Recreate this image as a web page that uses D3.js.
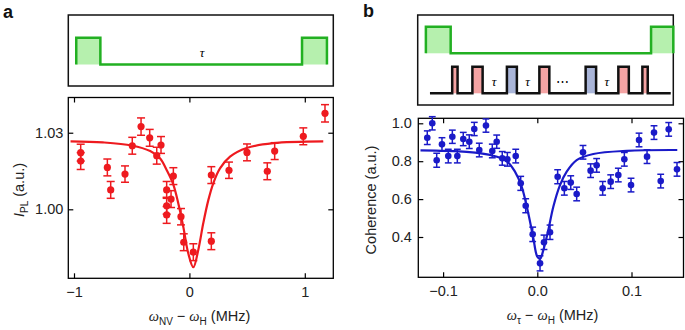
<!DOCTYPE html>
<html>
<head>
<meta charset="utf-8">
<script src="https://cdn.jsdelivr.net/npm/d3@7"></script>
<style>
  body { margin: 0; background: #fff; }
  svg { display: block; font-family: "Liberation Sans", Arial, sans-serif; }
  .tick text { font-size: 14.5px; fill: #222; }
  .tick line { stroke: #000; stroke-width: 1.2; }
  .frame { fill: none; stroke: #000; stroke-width: 1.3; }
  .axis-title { font-size: 14.5px; fill: #222; }
  .greek { font-family: "Liberation Serif", "DejaVu Serif", serif; font-style: italic; }
  .panel-label { font-size: 18px; font-weight: bold; fill: #111; }
</style>
</head>
<body>
<svg id="chart" width="685" height="330"></svg>
<script>
// ---- panel a: PL dip vs detuning ----
const freqA = [-0.942, -0.942, -0.711, -0.682, -0.558, -0.495, -0.419, -0.344, -0.283, -0.246,
  -0.197, -0.197, -0.197, -0.159, -0.139, -0.073, -0.049, 0.034, 0.190, 0.190,
  0.343, 0.499, 0.675, 0.739, 0.987, 1.175];
const plA = [1.0222, 1.0189, 1.0164, 1.0076, 1.0138, 1.0249, 1.0324, 1.0280, 1.0210, 1.0252,
  1.0076, 1.0014, 0.9978, 1.0040, 1.0130, 0.9971, 0.9871, 0.9832, 0.9875, 1.0134,
  1.0153, 1.0223, 1.0149, 1.0228, 1.0286, 1.0376];
const plErrA = [0.0033, 0.0033, 0.0033, 0.0033, 0.0032, 0.0033, 0.0034, 0.0033, 0.0033, 0.0033,
  0.0033, 0.0033, 0.0033, 0.0033, 0.0033, 0.0032, 0.0033, 0.0033, 0.0033, 0.0033,
  0.0032, 0.0033, 0.0033, 0.0033, 0.0033, 0.0034];
const fitFreqA = [-1.03, -0.75, -0.5, -0.34, -0.255, -0.197, -0.14, -0.096, -0.053, -0.01,
  0.034, 0.077, 0.12, 0.164, 0.207, 0.265, 0.352, 0.496, 0.727, 1.16];
const fitPlA = [1.0266, 1.0262, 1.0250, 1.0228, 1.0200, 1.0154, 1.0098, 1.0023, 0.9932, 0.9828,
  0.9773, 0.9841, 0.9945, 1.0036, 1.0102, 1.0160, 1.0206, 1.0240, 1.0259, 1.0266];
const xTicksA = [-1, 0, 1];
const yTicksA = [1.00, 1.03];

// ---- panel b: coherence vs detuning ----
const freqB = [-0.1168, -0.1115, -0.1068, -0.1012, -0.0945, -0.0902, -0.0849, -0.0786, -0.0722, -0.0669,
  -0.0616, -0.0545, -0.0478, -0.0431, -0.0372, -0.0318, -0.0229, -0.0176, -0.0123, -0.0049,
  0.0029, 0.0071, 0.0135, 0.0216, 0.0287, 0.0355, 0.0418, 0.0485, 0.0566, 0.0630,
  0.0694, 0.0779, 0.0860, 0.0924, 0.0995, 0.1080, 0.1165, 0.1239, 0.1310, 0.1395, 0.1483];
const cohB = [0.924, 1.000, 0.805, 0.889, 0.827, 0.929, 0.827, 0.917, 0.903, 0.970,
  0.859, 0.988, 0.854, 0.903, 0.815, 0.810, 0.827, 0.683, 0.565, 0.414,
  0.261, 0.372, 0.425, 0.718, 0.657, 0.687, 0.627, 0.847, 0.750, 0.778,
  0.657, 0.692, 0.727, 0.810, 0.674, 0.912, 0.824, 0.951, 0.695, 0.968, 0.757];
const cohErrB = [0.036, 0.035, 0.037, 0.035, 0.036, 0.035, 0.036, 0.035, 0.036, 0.035,
  0.036, 0.035, 0.036, 0.035, 0.036, 0.036, 0.036, 0.037, 0.037, 0.038,
  0.040, 0.038, 0.038, 0.037, 0.036, 0.036, 0.036, 0.036, 0.036, 0.036,
  0.036, 0.036, 0.036, 0.036, 0.036, 0.036, 0.036, 0.036, 0.036, 0.036, 0.036];
const fitFreqB = [-0.124, -0.075, -0.0467, -0.0325, -0.0237, -0.0166, -0.0096, -0.0042, 0.0, 0.003,
  0.0064, 0.0117, 0.017, 0.0241, 0.0312, 0.0418, 0.0594, 0.0949, 0.1486];
const fitCohB = [0.857, 0.849, 0.829, 0.801, 0.745, 0.666, 0.525, 0.393, 0.296, 0.285,
  0.331, 0.437, 0.560, 0.674, 0.745, 0.806, 0.838, 0.855, 0.859];
const xTicksB = [-0.1, 0.0, 0.1];
const yTicksB = [0.4, 0.6, 0.8, 1.0];

// ---- pulse schematics (time in % of the sequence box) ----
const laserStartA = [3.0, 88.2];
const laserEndA = [12.1, 97.6];
const laserStartB = [3.2, 91.3];
const laserEndB = [12.9, 100];
const mwStartB = [13.5, 21.4, 34.9, 47.6, 65.7, 78.5, 87.9];
const mwEndB = [15.6, 25.4, 38.8, 51.5, 69.8, 82.6, 90.0];
const mwPhaseB = ['x', 'x', 'y', 'x', 'y', 'x', 'x'];
const mwSpanB = [4.8, 99];
const gapLabelB = ['τ', 'τ', '⋯', 'τ'];
const gapPosB = [29.9, 43.0, 56.8, 74.0];
const gapLabelA = ['τ'];
const gapPosA = [50.5];

const svg = d3.select('#chart');

class ResonancePlot {

    constructor(_config, _data) {
        this.config = {
            parentElement: _config.parentElement,
            left: _config.left,
            top: _config.top,
            width: _config.width,
            height: _config.height,
            xDomain: _config.xDomain,
            yDomain: _config.yDomain,
            xTicks: _config.xTicks,
            yTicks: _config.yTicks,
            xFormat: _config.xFormat,
            yFormat: _config.yFormat,
            color: _config.color,
            radius: _config.radius || 3.4,
            cap: _config.cap || 3.5,
            yPadding: _config.yPadding || 5
        };
        this.data = _data;
        this.initVis();
    }

    initVis() {
        let vis = this;
        const cfg = vis.config;

        vis.xScale = d3.scaleLinear().domain(cfg.xDomain).range([0, cfg.width]);
        vis.yScale = d3.scaleLinear().domain(cfg.yDomain).range([cfg.height, 0]);

        // ticks point inward on all four sides, labels only bottom/left
        vis.xAxis = d3.axisBottom(vis.xScale).tickValues(cfg.xTicks).tickFormat(cfg.xFormat)
            .tickSizeInner(-5).tickSizeOuter(0).tickPadding(8);
        vis.xAxisTop = d3.axisTop(vis.xScale).tickValues(cfg.xTicks).tickFormat('')
            .tickSizeInner(-5).tickSizeOuter(0);
        vis.yAxis = d3.axisLeft(vis.yScale).tickValues(cfg.yTicks).tickFormat(cfg.yFormat)
            .tickSizeInner(-5).tickSizeOuter(0).tickPadding(cfg.yPadding);
        vis.yAxisRight = d3.axisRight(vis.yScale).tickValues(cfg.yTicks).tickFormat('')
            .tickSizeInner(-5).tickSizeOuter(0);

        vis.chart = cfg.parentElement.append('g')
            .attr('transform', `translate(${cfg.left},${cfg.top})`);

        vis.xAxisG = vis.chart.append('g').attr('transform', `translate(0,${cfg.height})`);
        vis.xAxisTopG = vis.chart.append('g');
        vis.yAxisG = vis.chart.append('g');
        vis.yAxisRightG = vis.chart.append('g').attr('transform', `translate(${cfg.width},0)`);

        vis.chart.append('rect')
            .attr('class', 'frame')
            .attr('width', cfg.width)
            .attr('height', cfg.height);

        vis.updateVis();
    }

    updateVis() {
        let vis = this;
        vis.points = vis.data.x.map((x, i) => ({x: x, y: vis.data.y[i], e: vis.data.err[i]}));
        vis.fit = vis.data.fitX.map((x, i) => ({x: x, y: vis.data.fitY[i]}));
        vis.renderVis();
    }

    renderVis() {
        let vis = this;
        const cfg = vis.config;

        vis.chart.append('path')
            .datum(vis.fit)
            .attr('fill', 'none')
            .attr('stroke', cfg.color)
            .attr('stroke-width', 2.2)
            .attr('d', d3.line()
                .x(d => vis.xScale(d.x))
                .y(d => vis.yScale(d.y))
                .curve(d3.curveCatmullRom.alpha(0.5)));

        const bars = vis.chart.selectAll('.err')
            .data(vis.points)
            .join('g')
            .attr('class', 'err')
            .attr('stroke', cfg.color)
            .attr('stroke-width', 1.5);

        bars.append('line')
            .attr('x1', d => vis.xScale(d.x)).attr('x2', d => vis.xScale(d.x))
            .attr('y1', d => vis.yScale(d.y - d.e)).attr('y2', d => vis.yScale(d.y + d.e));
        bars.append('line')
            .attr('x1', d => vis.xScale(d.x) - cfg.cap).attr('x2', d => vis.xScale(d.x) + cfg.cap)
            .attr('y1', d => vis.yScale(d.y + d.e)).attr('y2', d => vis.yScale(d.y + d.e));
        bars.append('line')
            .attr('x1', d => vis.xScale(d.x) - cfg.cap).attr('x2', d => vis.xScale(d.x) + cfg.cap)
            .attr('y1', d => vis.yScale(d.y - d.e)).attr('y2', d => vis.yScale(d.y - d.e));

        vis.chart.selectAll('.point')
            .data(vis.points)
            .join('circle')
            .attr('class', 'point')
            .attr('fill', cfg.color)
            .attr('r', cfg.radius)
            .attr('cx', d => vis.xScale(d.x))
            .attr('cy', d => vis.yScale(d.y));

        vis.xAxisG.call(vis.xAxis).call(g => g.select('.domain').remove());
        vis.xAxisTopG.call(vis.xAxisTop).call(g => g.select('.domain').remove());
        vis.yAxisG.call(vis.yAxis).call(g => g.select('.domain').remove());
        vis.yAxisRightG.call(vis.yAxisRight).call(g => g.select('.domain').remove());
    }
}

new ResonancePlot({
    parentElement: svg,
    left: 68.3, top: 97.5, width: 265, height: 180.8,
    xDomain: [-1.0494, 1.247], yDomain: [0.97297, 1.0438],
    xTicks: xTicksA, yTicks: yTicksA,
    xFormat: d3.format('d'), yFormat: d3.format('.2f'),
    color: '#ee1a1f', radius: 3.6, cap: 4, yPadding: 5
}, {x: freqA, y: plA, err: plErrA, fitX: fitFreqA, fitY: fitPlA});

new ResonancePlot({
    parentElement: svg,
    left: 418.3, top: 118.3, width: 265.2, height: 159,
    xDomain: [-0.12633, 0.1552], yDomain: [0.1873, 1.0264],
    xTicks: xTicksB, yTicks: yTicksB,
    xFormat: d3.format('.1f'), yFormat: d3.format('.1f'),
    color: '#1a1ac8', radius: 3.3, cap: 3.4, yPadding: 6.5
}, {x: freqB, y: cohB, err: cohErrB, fitX: fitFreqB, fitY: fitCohB});

// axis titles
function subscriptTitle(sel, parts) {
    parts.forEach(p => {
        sel.append('tspan')
            .attr('class', p.greek ? 'greek' : null)
            .style('font-style', p.italic ? 'italic' : null)
            .style('font-size', p.sub ? '10px' : null)
            .attr('dy', p.dy || 0)
            .text(p.t);
    });
}

subscriptTitle(svg.append('text').attr('class', 'axis-title')
    .attr('text-anchor', 'middle').attr('transform', 'translate(24,190) rotate(-90)'),
    [{t: 'I', italic: true}, {t: 'PL', sub: true, dy: 3.5}, {t: ' (a.u.)', dy: -3.5}]);

subscriptTitle(svg.append('text').attr('class', 'axis-title')
    .attr('text-anchor', 'middle').attr('x', 199.5).attr('y', 321),
    [{t: 'ω', greek: true}, {t: 'NV', sub: true, dy: 3.5}, {t: ' − ', dy: -3.5},
     {t: 'ω', greek: true}, {t: 'H', sub: true, dy: 3.5}, {t: ' (MHz)', dy: -3.5}]);

svg.append('text').attr('class', 'axis-title')
    .attr('text-anchor', 'middle').attr('transform', 'translate(375.5,200) rotate(-90)')
    .text('Coherence (a.u.)');

subscriptTitle(svg.append('text').attr('class', 'axis-title')
    .attr('text-anchor', 'middle').attr('x', 552.5).attr('y', 320),
    [{t: 'ω', greek: true}, {t: 'τ', sub: true, dy: 3.5}, {t: ' − ', dy: -3.5},
     {t: 'ω', greek: true}, {t: 'H', sub: true, dy: 3.5}, {t: ' (MHz)', dy: -3.5}]);

svg.append('text').attr('class', 'panel-label').attr('x', 3).attr('y', 18).text('a');
svg.append('text').attr('class', 'panel-label').attr('x', 363).attr('y', 17).text('b');

// ---- sequence schematics ----
function pulseTrain(g, tScale, level, starts, ends, span, stroke, fills) {
    g.selectAll(null)
        .data(starts)
        .join('rect')
        .attr('x', (d) => tScale(d))
        .attr('width', (d, i) => tScale(ends[i]) - tScale(d))
        .attr('y', level(1))
        .attr('height', level(0) - level(1))
        .attr('fill', (d, i) => fills[i]);

    const pts = [];
    if (span) pts.push([span[0], 0]);
    starts.forEach((s, i) => {
        pts.push([s, 0], [s, 1], [ends[i], 1], [ends[i], 0]);
    });
    if (span) pts.push([span[1], 0]);

    g.append('path')
        .attr('fill', 'none')
        .attr('stroke', stroke)
        .attr('stroke-width', 2.5)
        .attr('stroke-linejoin', 'miter')
        .attr('d', d3.line().x(d => tScale(d[0])).y(d => level(d[1]))(pts));
}

function gapLabels(g, tScale, y, labels, pos) {
    g.selectAll(null)
        .data(labels)
        .join('text')
        .attr('class', 'greek')
        .attr('text-anchor', 'middle')
        .attr('x', (d, i) => tScale(pos[i]))
        .attr('y', y)
        .style('font-size', '13px')
        .style('font-style', d => d === '⋯' ? 'normal' : null)
        .text(d => d);
}

const laserGreen = '#22b022';
const laserFill = '#b6f0ae';
const phaseFill = {x: '#f4a3a3', y: '#a9b5d8'};

// panel a box
const seqA = svg.append('g');
seqA.append('rect').attr('x', 68.3).attr('y', 15).attr('width', 265).attr('height', 71)
    .attr('fill', 'none').attr('stroke', '#111').attr('stroke-width', 1.5);
const tA = d3.scaleLinear().domain([0, 100]).range([68.3, 333.3]);
const lvA = d3.scaleLinear().domain([0, 1]).range([64.5, 37.7]);
pulseTrain(seqA, tA, lvA, laserStartA, laserEndA, null, laserGreen, laserStartA.map(() => laserFill));
gapLabels(seqA, tA, 56.5, gapLabelA, gapPosA);

// panel b box
const seqB = svg.append('g');
seqB.append('rect').attr('x', 417.7).attr('y', 15).attr('width', 255.6).attr('height', 90)
    .attr('fill', 'none').attr('stroke', '#111').attr('stroke-width', 1.5);
const tB = d3.scaleLinear().domain([0, 100]).range([417.7, 673.3]);
const lvLaserB = d3.scaleLinear().domain([0, 1]).range([53.3, 26.7]);
const lvMwB = d3.scaleLinear().domain([0, 1]).range([93.3, 66.7]);
pulseTrain(seqB, tB, lvLaserB, laserStartB, laserEndB, null, laserGreen, laserStartB.map(() => laserFill));
pulseTrain(seqB, tB, lvMwB, mwStartB, mwEndB, mwSpanB, '#111', mwPhaseB.map(p => phaseFill[p]));
gapLabels(seqB, tB, 85.5, gapLabelB, gapPosB);
</script>
</body>
</html>
